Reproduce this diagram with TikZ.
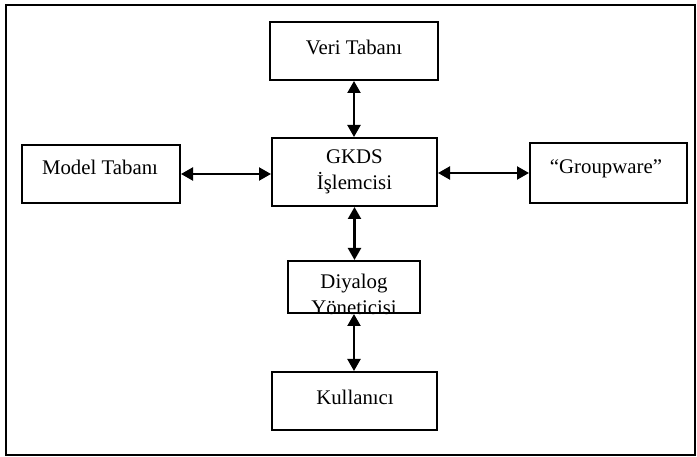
\documentclass[tikz,border=0pt]{standalone}
\usepackage{fontspec}
\setmainfont{Liberation Serif}
\usetikzlibrary{arrows.meta}
\begin{document}
\begin{tikzpicture}[x=1pt,y=-1pt,
  frame/.style={draw, line width=1.6pt},
  unit/.style={draw, line width=2pt, inner sep=0pt},
  caption/.style={inner sep=0pt, anchor=base, align=center,
    font=\fontsize{20.8}{26}\selectfont},
  link/.style={line width=2.2pt,
    {Triangle[length=12pt,width=13pt]}-{Triangle[length=12pt,width=13pt]}}]
\useasboundingbox (0,0) rectangle (697,457);
\draw[frame] (6,5) rectangle (695,455);

% boxes
\node[unit, minimum width=168pt, minimum height=58pt] (veri) at (354,51) {};
\node[unit, minimum width=165pt, minimum height=68pt] (gkds) at (354.5,172) {};
\node[unit, minimum width=158pt, minimum height=58pt] (model) at (101,174) {};
\node[unit, minimum width=157pt, minimum height=60pt] (group) at (608.5,173) {};
\node[unit, minimum width=132pt, minimum height=52pt] (dia) at (354,287) {};
\node[unit, minimum width=165pt, minimum height=58pt] (kul) at (354.5,401) {};

% captions (base anchor sits on the last line of a two-line caption)
\node[caption] (veriT) at (354,55) {Veri Tabanı};
\node[caption] (gkdsT) at (354.5,190) {GKDS\\İşlemcisi};
\node[caption] (modelT) at (100,175) {Model Tabanı};
\node[caption] (groupT) at (606,174) {“Groupware”};
\node[caption] (kulT) at (355,405) {Kullanıcı};
\begin{scope}
  \clip ([shift={(1pt,1pt)}]dia.north west) rectangle ([shift={(-1pt,-3pt)}]dia.south east);
  \node[caption] (diaT) at (354,315) {Diyalog\\Yöneticisi};
\end{scope}

% connectors
\draw[link] (veri.south) -- (veri.south |- gkds.north);
\draw[link] (model.east) -- (model.east -| gkds.west);
\draw[link] (gkds.east |- group.west) -- (group.west);
\draw[link] (gkds.south) -- (gkds.south |- dia.north);
\draw[link] (dia.south) -- (dia.south |- kul.north);
\end{tikzpicture}
\end{document}
